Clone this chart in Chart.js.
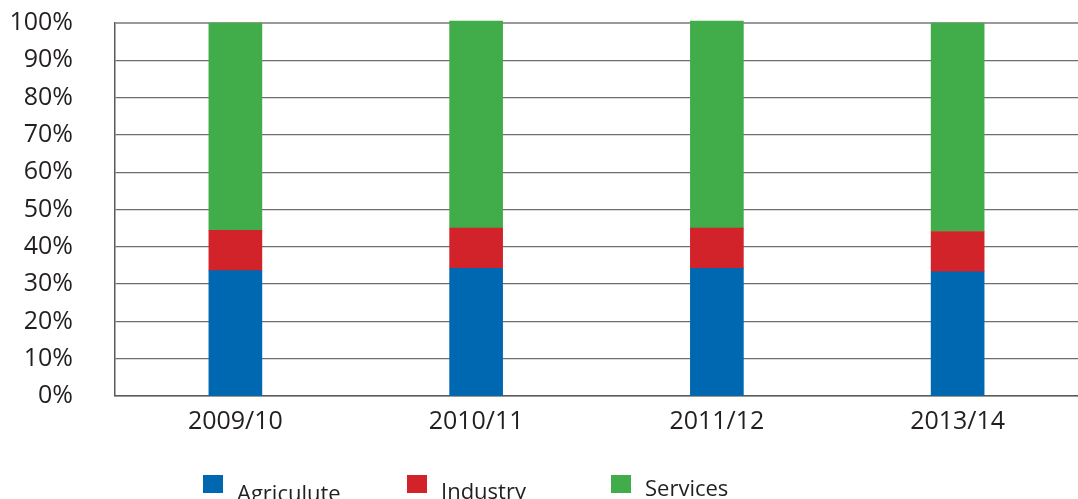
<!DOCTYPE html>
<html>
<head>
<meta charset="utf-8">
<script src="https://cdn.jsdelivr.net/npm/chart.js@4/dist/chart.umd.min.js"></script>
<style>
  html, body { margin: 0; padding: 0; background: #fff; }
  #wrap { position: relative; width: 1078px; height: 499px; overflow: hidden; }
  #legend { position: absolute; left: 203px; top: 475px; display: flex; font-family: "Open Sans", sans-serif; font-size: 22px; color: #231f20; }
  .item { width: 204px; display: flex; align-items: flex-start; }
  .box { width: 20px; height: 18px; margin-right: 14px; flex: none; }
  .lbl { line-height: 22px; }
</style>
</head>
<body>
<div id="wrap">
  <canvas id="grafico" width="1078" height="499"></canvas>
  <div id="legend"></div>
</div>
<script>
// Años fiscales y participación de cada sector (%)
const anios = ['2009/10', '2010/11', '2011/12', '2013/14'];
const agricultura = [33.6, 34.2, 34.2, 33.3];
const industria = [10.8, 10.8, 10.8, 10.8];
const servicios = [55.6, 55.5, 55.5, 55.9];

const nombres = ['Agriculute', 'Industry', 'Services'];
const colores = ['#0067b1', '#d2232a', '#41ad4a'];
const desplazLeyenda = [6, 4, 1]; // pequeño desfase vertical del texto

const fuente = { family: '"Open Sans", sans-serif', size: 25 };

const ctx = document.getElementById('grafico').getContext('2d');
const grafico = new Chart(ctx, {
    type: 'bar',
    data: {
        labels: anios,
        datasets: [agricultura, industria, servicios].map((datos, i) => ({
            label: nombres[i],
            data: datos,
            backgroundColor: colores[i],
            borderWidth: 0,
            barThickness: 53,
            clip: false
        }))
    },
    options: {
        responsive: false,
        animation: false,
        layout: { padding: { top: 23, right: 0, bottom: 51, left: 0 } },
        plugins: {
            legend: { display: false },
            tooltip: { enabled: false }
        },
        scales: {
            x: {
                stacked: true,
                grid: { display: false, drawTicks: false },
                border: { display: true, color: '#5a5a5a', width: 1.5 },
                ticks: { color: '#231f20', font: fuente, padding: 11, maxRotation: 0 }
            },
            y: {
                stacked: true,
                min: 0,
                max: 100,
                afterFit: escala => {
                    // ancho fijo del eje y sin margen extra arriba/abajo
                    escala.width = 115;
                    escala.paddingTop = 0;
                    escala.paddingBottom = 0;
                },
                grid: {
                    drawTicks: false,
                    color: c => c.index === 10 ? '#9a9a9a' : '#6e6e6e',
                    lineWidth: c => c.index === 10 ? 2 : 1.3
                },
                border: { display: true, color: '#5a5a5a', width: 1.5 },
                ticks: {
                    stepSize: 10,
                    autoSkip: false,
                    color: '#231f20',
                    font: fuente,
                    padding: 42,
                    callback: v => v + '%'
                }
            }
        }
    }
});

// Leyenda en HTML debajo del gráfico
const leyenda = document.getElementById('legend');
nombres.forEach((nombre, i) => {
    const item = document.createElement('div');
    item.className = 'item';
    item.innerHTML = '<span class="box" style="background:' + colores[i] + '"></span>' +
        '<span class="lbl" style="margin-top:' + desplazLeyenda[i] + 'px">' + nombre + '</span>';
    leyenda.appendChild(item);
});
</script>
</body>
</html>
